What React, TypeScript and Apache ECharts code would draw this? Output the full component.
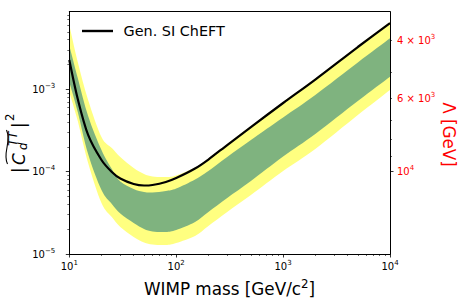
import React, { useEffect, useRef } from "react";
import * as echarts from "echarts";

// ---- data (WIMP mass in GeV/c^2, |C|^2) ----
const MASS = [10, 12, 15, 20, 25, 30, 40, 50, 60, 80, 100, 150, 200, 300, 500, 1000, 2000, 5000, 10000];
const LIMIT = [2.27e-3, 7.62e-4, 2.79e-4, 1.385e-4, 9.9e-5, 8.25e-5, 7.08e-5, 6.79e-5, 6.89e-5, 7.49e-5, 8.37e-5, 1.092e-4, 1.404e-4, 2.107e-4, 3.48e-4, 6.82e-4, 1.315e-3, 3.264e-3, 6.38e-3];
const YELLOW_HIGH = [6.04e-3, 2.146e-3, 7.42e-4, 2.635e-4, 1.937e-4, 1.506e-4, 1.107e-4, 9.36e-5, 8.73e-5, 8.61e-5, 8.98e-5, 1.123e-4, 1.444e-4, 2.167e-4, 3.584e-4, 7.01e-4, 1.352e-3, 3.356e-3, 6.57e-3];
const GREEN_HIGH = [3.4e-3, 1.372e-3, 4.74e-4, 1.832e-4, 1.077e-4, 7.59e-5, 6.16e-5, 5.66e-5, 5.58e-5, 5.82e-5, 6.24e-5, 8.03e-5, 1.018e-4, 1.506e-4, 2.423e-4, 4.545e-4, 8.53e-4, 2.116e-3, 4.16e-3];
const GREEN_LOW = [1.226e-3, 5.3e-4, 1.638e-4, 5.99e-5, 4.05e-5, 3.1e-5, 2.38e-5, 2.01e-5, 1.875e-5, 1.849e-5, 1.956e-5, 2.45e-5, 3.24e-5, 4.79e-5, 7.7e-5, 1.528e-4, 2.87e-4, 7.21e-4, 1.422e-3];
const YELLOW_LOW = [9.27e-4, 4.12e-4, 1.274e-4, 4.16e-5, 2.81e-5, 2.13e-5, 1.608e-5, 1.379e-5, 1.304e-5, 1.286e-5, 1.36e-5, 1.654e-5, 2.19e-5, 3.24e-5, 5.21e-5, 1.018e-4, 1.884e-4, 4.87e-4, 9.8e-4];

// ---- ticks ----
const X_MAJOR = [10, 100, 1000, 10000];
const X_MINOR = [20, 30, 40, 50, 60, 70, 80, 90, 200, 300, 400, 500, 600, 700, 800, 900, 2000, 3000, 4000, 5000, 6000, 7000, 8000, 9000];
const Y_MAJOR = [1e-5, 1e-4, 1e-3];
const Y_MINOR = [2e-5, 3e-5, 4e-5, 5e-5, 6e-5, 7e-5, 8e-5, 9e-5, 2e-4, 3e-4, 4e-4, 5e-4, 6e-4, 7e-4, 8e-4, 9e-4, 2e-3, 3e-3, 4e-3, 5e-3, 6e-3, 7e-3, 8e-3];
const LAMBDA_MAJOR = [10000];
const LAMBDA_MINOR = [4000, 5000, 6000, 7000, 8000, 9000];
const LAMBDA_LABELED = [4000, 6000, 10000];

const X_MIN = 10;
const X_MAX = 10000;
const Y_MIN = 1e-5;
const Y_MAX = 8.76e-3;

// Lambda = 1000 GeV * |C|^(-1/4)
const lambdaToC = (L: number) => Math.pow(1000 / L, 4);
const cToLambda = (c: number) => 1000 * Math.pow(c, -0.25);

const FONT = '"DejaVu Sans", "Liberation Sans", sans-serif';
const BLACK = "#000000";
const RED = "#ff0000";
const YELLOW = "#ffff80";
const GREEN = "#7fb37f";

const supText = (e: number) => `{b|10}{s|${e < 0 ? "\u2212" + -e : e}}`;
const rich = (color: string) => ({
  b: { fontFamily: FONT, fontSize: 10, color, lineHeight: 12 },
  s: { fontFamily: FONT, fontSize: 7, color, lineHeight: 8, padding: [0, 0, 7, 0] },
});

const measure = (() => {
  const cv = typeof document !== "undefined" ? document.createElement("canvas") : null;
  const ctx = cv ? cv.getContext("2d") : null;
  return (s: string, font: string) => {
    if (!ctx) return s.length * 8;
    ctx.font = font;
    return ctx.measureText(s).width;
  };
})();

// Catmull-Rom spline through pixel points -> cubic bezier path segments
function splineSegments(pts: number[][]) {
  let d = "";
  const t = 1 / 6;
  for (let i = 0; i < pts.length - 1; i++) {
    const p0 = pts[i - 1] || pts[i];
    const p1 = pts[i];
    const p2 = pts[i + 1];
    const p3 = pts[i + 2] || p2;
    const c1x = p1[0] + (p2[0] - p0[0]) * t;
    const c1y = p1[1] + (p2[1] - p0[1]) * t;
    const c2x = p2[0] - (p3[0] - p1[0]) * t;
    const c2y = p2[1] - (p3[1] - p1[1]) * t;
    d += ` C${c1x.toFixed(2)},${c1y.toFixed(2)} ${c2x.toFixed(2)},${c2y.toFixed(2)} ${p2[0].toFixed(2)},${p2[1].toFixed(2)}`;
  }
  return d;
}

function bandSeries(name: string, hi: number[], lo: number[], color: string, z: number) {
  return {
    name,
    type: "custom",
    coordinateSystem: "cartesian2d",
    xAxisIndex: 0,
    yAxisIndex: 0,
    silent: true,
    z,
    data: [[MASS[0], lo[0]]],
    encode: { x: 0, y: 1 },
    renderItem: (params: any, api: any) => {
      const up = MASS.map((m, i) => api.coord([m, hi[i]]));
      const dn = MASS.map((m, i) => api.coord([m, lo[i]])).reverse();
      const d =
        `M${up[0][0].toFixed(2)},${up[0][1].toFixed(2)}` +
        splineSegments(up) +
        ` L${dn[0][0].toFixed(2)},${dn[0][1].toFixed(2)}` +
        splineSegments(dn) +
        " Z";
      return {
        type: "path",
        shape: { pathData: d },
        style: { fill: color, stroke: null, lineWidth: 0 },
      };
    },
  };
}

function buildOption() {
  const pairs = (ys: number[]) => MASS.map((m, i) => [m, ys[i]]);
  const axisLineStyle = { color: BLACK, width: 1 };
  const off = { show: false };

  // x axis title with superscript
  const mainFont = `16.8px ${FONT}`;
  const supFont = `11.8px ${FONT}`;
  const p1 = "WIMP mass [GeV/c";
  const w1 = measure(p1, mainFont);
  const w2 = measure("2", supFont);
  const w3 = measure("]", mainFont);
  const xl = 229.5 - (w1 + w2 + w3) / 2;

  const txt = (text: string, x: number, y: number, font: string, fill = BLACK, align = "left") => ({
    type: "text",
    x,
    y,
    silent: true,
    style: { text, font, fill, align, verticalAlign: "middle", textAlign: align, textVerticalAlign: "middle" },
  });

  const midOff = (size: number) => -0.346 * size;
  const yLabelChildren: any[] = [
    txt("|", 0, midOff(16.8), mainFont),
    txt("C", 8, midOff(16.8), `italic 16.8px ${FONT}`),
    txt("d", 23, 2 + midOff(11.8), `italic 11.8px ${FONT}`),
    txt("TT", 27, -7.5 + midOff(11.8), `italic 11.8px ${FONT}`),
    txt("|", 45, midOff(16.8), mainFont),
    txt("2", 52, -11 + midOff(11.8), supFont),
    {
      type: "bezierCurve",
      silent: true,
      shape: { x1: 9, y1: -17.5, cpx1: 20, cpy1: -23, cpx2: 31, cpy2: -13, x2: 43, y2: -18.5 },
      style: { stroke: BLACK, lineWidth: 1.1, fill: "none" },
    },
  ];

  const logAxis = (extra: any) => ({ type: "log", logBase: 10, splitLine: off, minorTick: off, z: 10, ...extra });

  return {
    animation: false,
    backgroundColor: "#ffffff",
    grid: { left: 69.3, top: 11.7, width: 320.7, height: 242.3, containLabel: false, outerBoundsMode: "none" },
    legend: {
      data: ["Gen. SI ChEFT"],
      left: 77,
      top: 18,
      icon: "rect",
      itemWidth: 31,
      itemHeight: 2.4,
      selectedMode: false,
      textStyle: { fontFamily: FONT, fontSize: 14.4, color: BLACK, lineHeight: 16, padding: [0, 0, 0, 5.5] },
    },
    xAxis: [
      logAxis({
        min: X_MIN,
        max: X_MAX,
        position: "bottom",
        axisLine: { show: true, onZero: false, lineStyle: axisLineStyle },
        axisTick: { show: true, inside: false, length: 3.5, customValues: X_MAJOR, lineStyle: { color: BLACK, width: 0.8 } },
        axisLabel: {
          show: true,
          customValues: X_MAJOR,
          margin: 6,
          formatter: (v: number) => supText(Math.round(Math.log10(v))),
          rich: rich(BLACK),
        },
      }),
      logAxis({
        min: X_MIN,
        max: X_MAX,
        position: "bottom",
        axisLine: { show: false, onZero: false },
        axisTick: { show: true, inside: false, length: 2, customValues: X_MINOR, lineStyle: { color: BLACK, width: 0.6 } },
        axisLabel: off,
      }),
      logAxis({
        min: X_MIN,
        max: X_MAX,
        position: "top",
        axisLine: { show: true, onZero: false, lineStyle: axisLineStyle },
        axisTick: off,
        axisLabel: off,
      }),
    ],
    yAxis: [
      logAxis({
        min: Y_MIN,
        max: Y_MAX,
        position: "left",
        axisLine: { show: true, onZero: false, lineStyle: axisLineStyle },
        axisTick: { show: true, inside: false, length: 3.5, customValues: Y_MAJOR, lineStyle: { color: BLACK, width: 0.8 } },
        axisLabel: {
          show: true,
          customValues: Y_MAJOR,
          margin: 14,
          formatter: (v: number) => supText(Math.round(Math.log10(v))),
          rich: rich(BLACK),
        },
      }),
      logAxis({
        min: Y_MIN,
        max: Y_MAX,
        position: "left",
        axisLine: { show: false, onZero: false },
        axisTick: { show: true, inside: false, length: 2, customValues: Y_MINOR, lineStyle: { color: BLACK, width: 0.6 } },
        axisLabel: off,
      }),
      logAxis({
        min: Y_MIN,
        max: Y_MAX,
        position: "right",
        axisLine: { show: true, onZero: false, lineStyle: axisLineStyle },
        axisTick: { show: true, inside: false, length: 3.5, customValues: LAMBDA_MAJOR.map(lambdaToC), lineStyle: { color: BLACK, width: 0.8 } },
        axisLabel: {
          show: true,
          customValues: LAMBDA_LABELED.map(lambdaToC),
          margin: 7,
          formatter: (v: number) => {
            const L = Math.round(cToLambda(v) / 1000) * 1000;
            if (L === 10000) return "{b|10}{s|4}";
            return `{b|${L / 1000} \u00d7 10}{s|3}`;
          },
          rich: rich(RED),
        },
      }),
      logAxis({
        min: Y_MIN,
        max: Y_MAX,
        position: "right",
        axisLine: { show: false, onZero: false },
        axisTick: { show: true, inside: false, length: 2, customValues: LAMBDA_MINOR.map(lambdaToC), lineStyle: { color: BLACK, width: 0.6 } },
        axisLabel: off,
      }),
    ],
    series: [
      bandSeries("2 sigma band", YELLOW_HIGH, YELLOW_LOW, YELLOW, 1),
      bandSeries("1 sigma band", GREEN_HIGH, GREEN_LOW, GREEN, 2),
      {
        name: "Gen. SI ChEFT",
        type: "line",
        xAxisIndex: 0,
        yAxisIndex: 0,
        data: pairs(LIMIT),
        symbol: "none",
        smooth: 0.3,
        silent: true,
        color: BLACK,
        itemStyle: { color: BLACK },
        lineStyle: { color: BLACK, width: 2.2 },
        z: 3,
      },
    ],
    graphic: [
      txt(p1, xl, 288.5, mainFont),
      txt("2", xl + w1, 283.6, supFont),
      txt("]", xl + w1 + w2, 288.5, mainFont),
      {
        type: "text",
        x: 449,
        y: 134.5,
        rotation: -Math.PI / 2,
        silent: true,
        style: { text: "\u039b [GeV]", font: mainFont, fill: RED, align: "center", verticalAlign: "middle", textAlign: "center", textVerticalAlign: "middle" },
      },
      {
        type: "group",
        x: 25,
        y: 173,
        rotation: Math.PI / 2,
        silent: true,
        children: yLabelChildren,
      },
    ],
  };
}

export default function App() {
  const ref = useRef<HTMLDivElement>(null);
  useEffect(() => {
    if (!ref.current) return;
    const chart = echarts.init(ref.current, null, { renderer: "svg" });
    chart.setOption(buildOption() as any);
    return () => chart.dispose();
  }, []);
  return (
    <div
      ref={ref}
      style={{ position: "fixed", left: 0, top: 0, width: 467, height: 307, background: "#ffffff" }}
    />
  );
}
